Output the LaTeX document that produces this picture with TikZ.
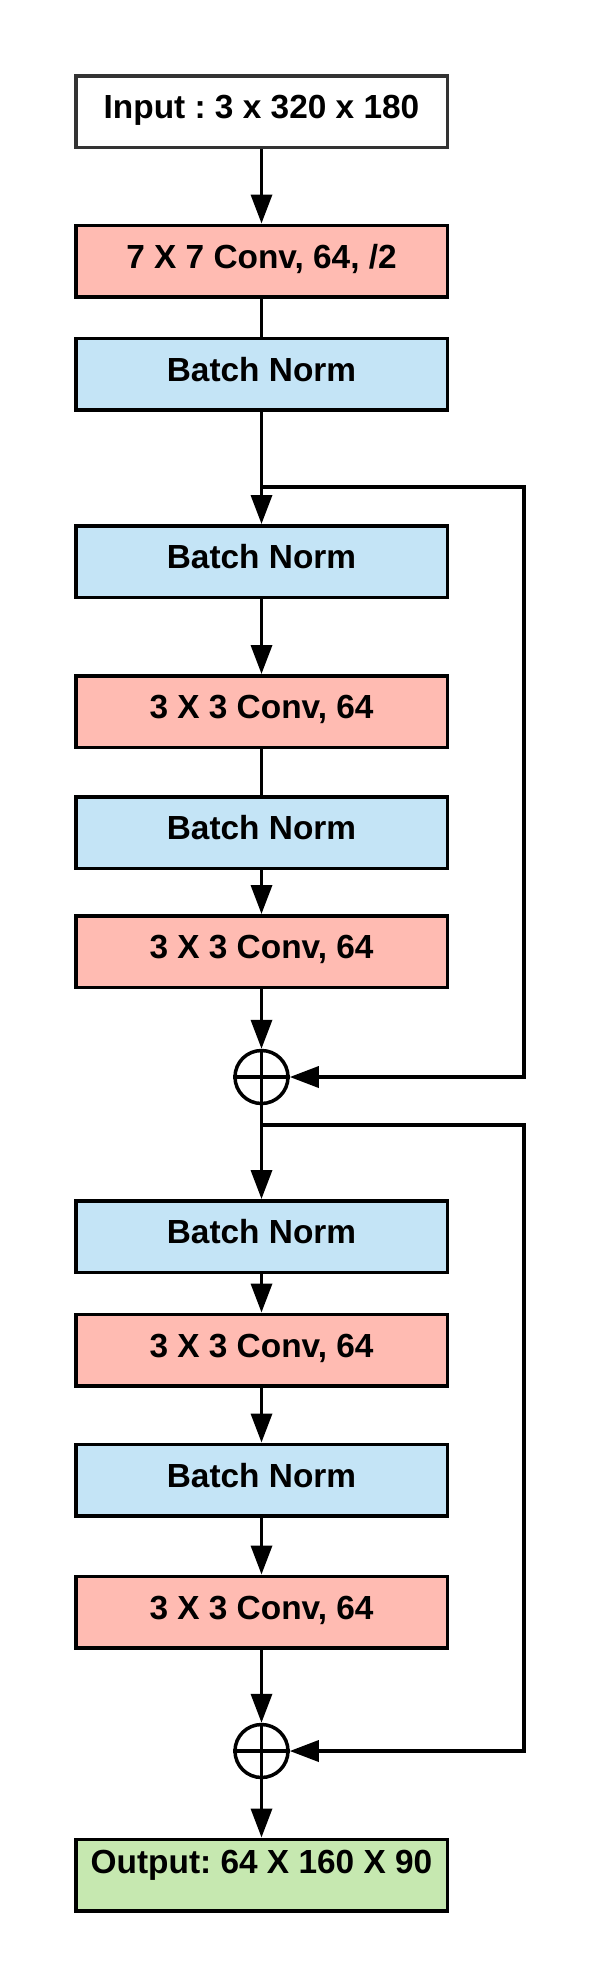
\documentclass[tikz,border=0pt]{standalone}
\usepackage{fontspec}
\setmainfont{Liberation Sans}
\usetikzlibrary{arrows.meta}
\frenchspacing

\definecolor{convred}{HTML}{FFBBB2}
\definecolor{normblue}{HTML}{C4E4F6}
\definecolor{outgreen}{HTML}{C6E8B0}

\tikzset{
  layer/.style={draw=black,line width=1.75pt,minimum width=185.75pt,minimum height=35.75pt,
    font=\fontsize{16.7}{20}\selectfont\bfseries,text height=0.716em,text depth=0pt,inner sep=0pt},
  convbox/.style={layer,fill=convred},
  normbox/.style={layer,fill=normblue},
  iobox/.style={layer,fill=white},
  addnode/.style={draw=black,circle,line width=1.75pt,minimum size=26.5pt,inner sep=0pt},
  flow/.style={line width=1.75pt,-{Triangle[length=14.5pt,width=10.5pt]}},
  link/.style={line width=1.75pt}
}

\begin{document}
\begin{tikzpicture}[x=0.5pt,y=-0.5pt]
\useasboundingbox (0,0) rectangle (600,1988);

% stem
\node[iobox,draw=black!80] (input) at (261.5,111.5) {Input : 3 x 320 x 180};
\node[convbox] (conv0) at (261.5,261) {7 X 7 Conv, 64, /2};
\node[normbox] (bn0) at (261.5,374) {Batch Norm};

% first residual block
\node[normbox] (bn1) at (261.5,561.5) {Batch Norm};
\node[convbox] (conv1) at (261.5,711.5) {3 X 3 Conv, 64};
\node[normbox] (bn2) at (261.5,832.5) {Batch Norm};
\node[convbox] (conv2) at (261.5,951.5) {3 X 3 Conv, 64};
\node[addnode] (add1) at (261.5,1077) {};

% second residual block
\node[normbox] (bn3) at (261.5,1236.5) {Batch Norm};
\node[convbox] (conv3) at (261.5,1350) {3 X 3 Conv, 64};
\node[normbox] (bn4) at (261.5,1480) {Batch Norm};
\node[convbox] (conv4) at (261.5,1612) {3 X 3 Conv, 64};
\node[addnode] (add2) at (261.5,1751) {};

\node[iobox,fill=outgreen,text depth=9pt] (output) at (261.5,1875) {Output: 64 X 160 X 90};

% plus signs
\draw[link] (add1.north) -- (add1.south) (add1.west) -- (add1.east);
\draw[link] (add2.north) -- (add2.south) (add2.west) -- (add2.east);

% main path
\draw[flow] (input) -- (conv0);
\draw[link] (conv0) -- (bn0);
\draw[flow] (bn0) -- (bn1);
\draw[flow] (bn1) -- (conv1);
\draw[link] (conv1) -- (bn2);
\draw[flow] (bn2) -- (conv2);
\draw[flow] (conv2) -- (add1);
\draw[flow] (add1) -- (bn3);
\draw[flow] (bn3) -- (conv3);
\draw[flow] (conv3) -- (bn4);
\draw[flow] (bn4) -- (conv4);
\draw[flow] (conv4) -- (add2);
\draw[flow] (add2) -- (output);

% shortcuts
\coordinate (fork1) at (261.5,487);
\coordinate (skip1) at (524,487);
\draw[flow] (fork1) -- (skip1) |- (add1);
\coordinate (fork2) at (261.5,1125);
\coordinate (skip2) at (524,1125);
\draw[flow] (fork2) -- (skip2) |- (add2);
\end{tikzpicture}
\end{document}
